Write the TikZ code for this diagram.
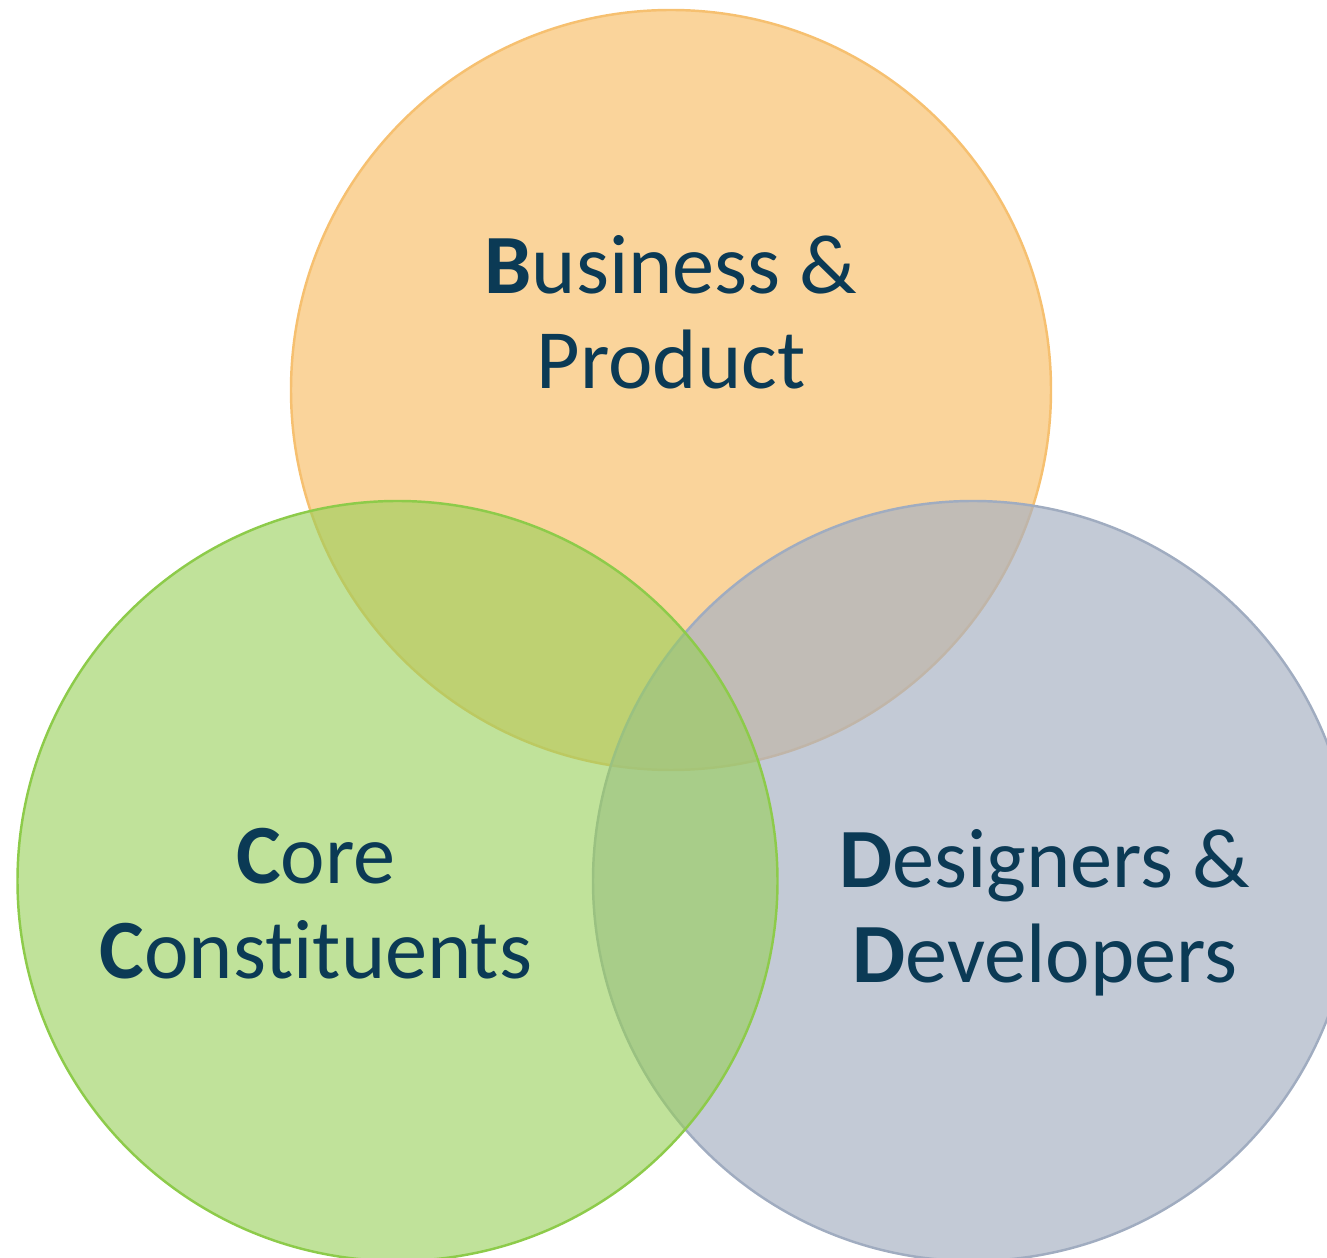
\documentclass[tikz,border=0pt]{standalone}
\usepackage{fontspec}
\setmainfont{Carlito}[Ligatures=NoCommon]
\usepackage{xcolor}
\usepackage{tikz}
\usetikzlibrary{positioning}

\definecolor{bizfill}{RGB}{250,212,155}
\definecolor{bizline}{RGB}{246,192,112}
\definecolor{devfill}{RGB}{167,177,195}
\definecolor{devline}{RGB}{160,172,192}
\definecolor{corefill}{RGB}{150,207,87}
\definecolor{coreline}{RGB}{141,203,74}
\definecolor{navytext}{RGB}{11,58,85}

\begin{document}
\begin{tikzpicture}[
    bubble/.style={line width=0.7pt},
    label/.style={text=navytext, font=\fontsize{24}{27}\selectfont, align=center}
]
    \useasboundingbox (0, 0) rectangle (13.27, 12.58);
    \clip (0, 0) rectangle (13.27, 12.58);

    % Business & Product
    \draw [bubble, draw=bizline, fill=bizfill] (6.71, 8.68) circle (3.8);
    \node [label] (biz) at (6.71, 9.46) {\textbf{B}usiness \&\\Product};

    % Designers & Developers
    \draw [bubble, draw=devline, fill=devfill, fill opacity=0.68] (9.73, 3.77) circle (3.8);
    \node [label] (dev) at (10.45, 3.45) {\textbf{D}esigners \&\\\textbf{D}evelopers};

    % Core Constituents
    \draw [bubble, draw=coreline, fill=corefill, fill opacity=0.6] (3.975, 3.77) circle (3.8);
    \node [label] (core) at (3.16, 3.54) {\textbf{C}ore\\\textbf{C}onstituents};
\end{tikzpicture}
\end{document}
